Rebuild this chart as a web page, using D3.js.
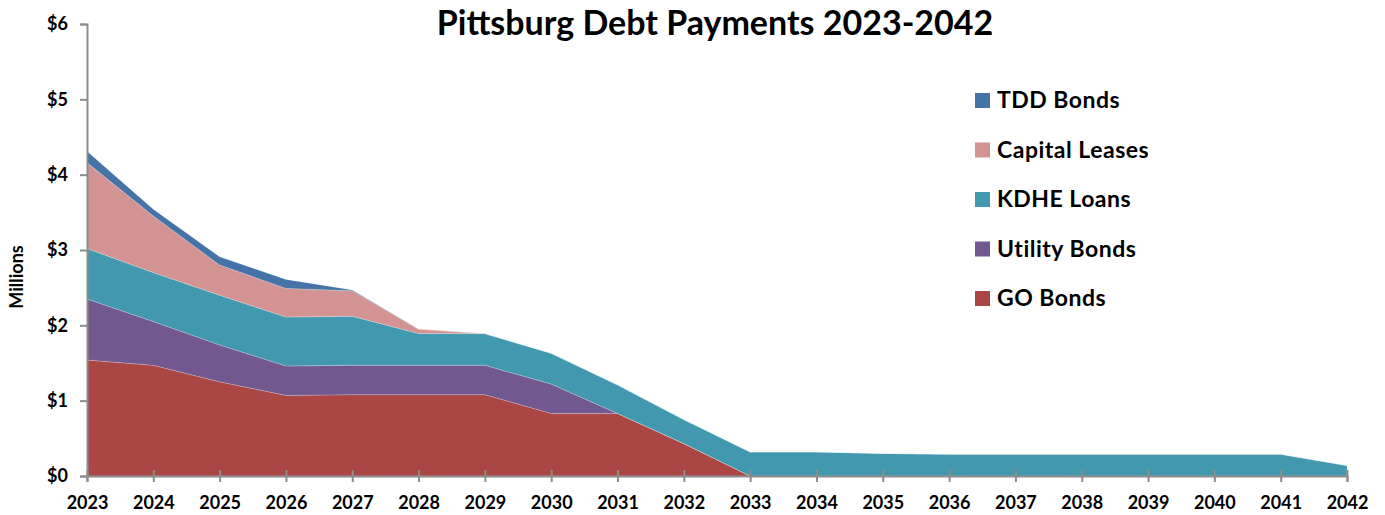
<!DOCTYPE html>
<html>
<head>
<meta charset="utf-8">
<script src="https://cdn.jsdelivr.net/npm/d3@7"></script>
<style>
  html, body { margin: 0; padding: 0; background: #fff; }
  svg { display: block; }
  svg text { font-family: Lato, "Open Sans", "Liberation Sans", sans-serif; font-weight: bold; fill: #000; }
</style>
</head>
<body>
<svg id="chart" width="1385" height="515"></svg>
<script>
// Debt payments by year, in millions of dollars
const years = [2023, 2024, 2025, 2026, 2027, 2028, 2029, 2030, 2031, 2032,
               2033, 2034, 2035, 2036, 2037, 2038, 2039, 2040, 2041, 2042];
const goBonds      = [1.54, 1.47, 1.25, 1.07, 1.08, 1.08, 1.08, 0.83, 0.83, 0.43, 0, 0, 0, 0, 0, 0, 0, 0, 0, 0];
const utilityBonds = [0.81, 0.58, 0.49, 0.39, 0.39, 0.39, 0.39, 0.39, 0, 0, 0, 0, 0, 0, 0, 0, 0, 0, 0, 0];
const kdheLoans    = [0.67, 0.65, 0.66, 0.65, 0.65, 0.42, 0.42, 0.41, 0.38, 0.32, 0.32, 0.32, 0.30, 0.29, 0.29, 0.29, 0.29, 0.29, 0.29, 0.14];
const capitalLeases= [1.14, 0.75, 0.40, 0.38, 0.34, 0.06, 0, 0, 0, 0, 0, 0, 0, 0, 0, 0, 0, 0, 0, 0];
const tddBonds     = [0.15, 0.09, 0.11, 0.12, 0.01, 0, 0, 0, 0, 0, 0, 0, 0, 0, 0, 0, 0, 0, 0, 0];
const yTicks = [0, 1, 2, 3, 4, 5, 6];

const seriesDefs = [
  { key: "go",      name: "GO Bonds",       values: goBonds,       color: "#AA4643" },
  { key: "utility", name: "Utility Bonds",  values: utilityBonds,  color: "#71588F" },
  { key: "kdhe",    name: "KDHE Loans",     values: kdheLoans,     color: "#4198AF" },
  { key: "capital", name: "Capital Leases", values: capitalLeases, color: "#D39392" },
  { key: "tdd",     name: "TDD Bonds",      values: tddBonds,      color: "#4572A7" }
];

const rows = years.map((y, i) => {
  const r = { year: y };
  seriesDefs.forEach(s => { r[s.key] = s.values[i]; });
  return r;
});

const svg = d3.select("#chart");
const margin = { left: 87, right: 38, top: 24, bottom: 39 };
const W = 1385, H = 515;

const x = d3.scaleLinear().domain([years[0], years[years.length - 1]]).range([margin.left, W - margin.right]);
const y = d3.scaleLinear().domain([0, 6]).range([H - margin.bottom, margin.top]);

const stack = d3.stack().keys(seriesDefs.map(s => s.key));
const layers = stack(rows);

const area = d3.area()
  .x(d => x(d.data.year))
  .y0(d => y(d[0]))
  .y1(d => y(d[1]));

svg.append("g")
  .selectAll("path")
  .data(layers)
  .join("path")
  .attr("d", area)
  .attr("fill", (d, i) => seriesDefs[i].color)
  .attr("stroke", "rgba(255,255,255,0.35)")
  .attr("stroke-width", 0.6);

// Axes
const axisColor = "#8c8c8c";
const yAxis = svg.append("g")
  .attr("transform", `translate(${margin.left},0)`)
  .call(d3.axisLeft(y).tickValues(yTicks).tickFormat(d => "$" + d).tickSize(7).tickPadding(12));
yAxis.attr("font-family", null).attr("font-size", null);
yAxis.select(".domain").attr("stroke", axisColor).attr("stroke-width", 2);
yAxis.selectAll(".tick line").attr("stroke", axisColor).attr("stroke-width", 2);
yAxis.selectAll(".tick text").style("font-size", "18px");

const xAxis = svg.append("g")
  .attr("transform", `translate(0,${y(0)})`)
  .call(d3.axisBottom(x).tickValues(years).tickFormat(d3.format("d")).tickSize(6));
xAxis.attr("font-family", null).attr("font-size", null);
xAxis.select(".domain").attr("stroke", axisColor).attr("stroke-width", 2);
xAxis.selectAll(".tick line").attr("stroke", axisColor).attr("stroke-width", 2).attr("y1", -6);
xAxis.selectAll(".tick text").style("font-size", "18px").attr("y", 33).attr("dy", null);

// Title
svg.append("text")
  .attr("x", 715).attr("y", 35)
  .attr("text-anchor", "middle")
  .style("font-size", "34px")
  .text("Pittsburg Debt Payments 2023-2042");

// Y axis title
svg.append("text")
  .attr("transform", "translate(23,277) rotate(-90)")
  .attr("text-anchor", "middle")
  .style("font-size", "18px")
  .text("Millions");

// Legend, top series first
const legend = svg.append("g").attr("transform", "translate(975,100)");
const legendItems = seriesDefs.slice().reverse();
const li = legend.selectAll("g").data(legendItems).join("g")
  .attr("transform", (d, i) => `translate(0,${i * 49.5})`);
li.append("rect").attr("x", 0).attr("y", -7).attr("width", 15).attr("height", 15)
  .attr("fill", d => d.color);
li.append("text").attr("x", 22).attr("y", 8)
  .style("font-size", "23px").style("letter-spacing", "0.5px")
  .text(d => d.name);
</script>
</body>
</html>
